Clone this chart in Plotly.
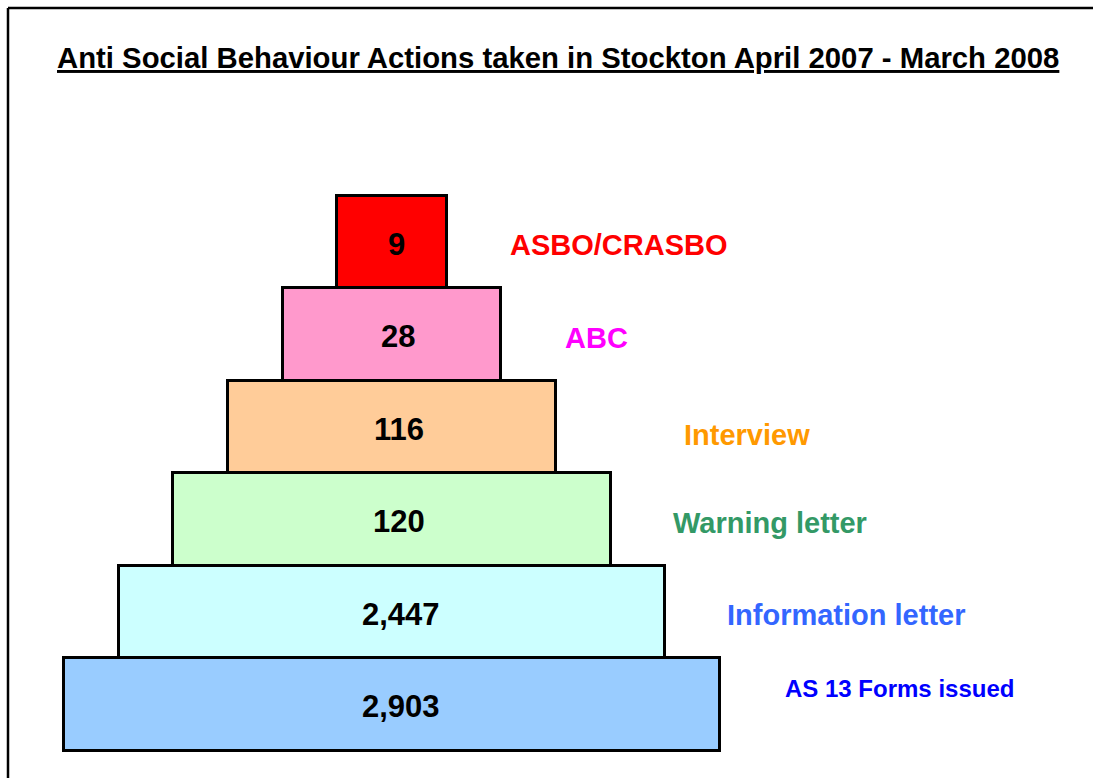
import plotly.graph_objects as go

# ---- data ----
categories = ["ASBO/CRASBO", "ABC", "Interview", "Warning letter",
              "Information letter", "AS 13 Forms issued"]
values = [9, 28, 116, 120, 2447, 2903]
title_text = "Anti Social Behaviour Actions taken in Stockton April 2007 - March 2008"

# ---- styles ----
bar_colors = ["#FF0000", "#FF99CC", "#FFCC99", "#CCFFCC", "#CCFFFF", "#99CCFF"]
label_colors = ["#FF0000", "#FF00FF", "#FF9900", "#339966", "#3366FF", "#0000FF"]
label_sizes = [29, 29, 29, 29, 29, 24]
label_gap = [0.56, 0.56, 1.15, 0.55, 0.55, 0.58]   # gap from bar edge (x units)
label_yshift = [-3, -3, -8, -3, -3, 16]            # pixels
value_xshift = [1, 3, 4, 4, 6, 6]                  # pixels
FONT = "Liberation Sans, Arial, sans-serif"

n = len(categories)
# pyramid: level k (from top) is k+1 units wide, centred on 0
levels = list(range(n))
ypos = [n - 1 - k for k in levels]
widths = [k + 1 for k in levels]
bases = [-w / 2 for w in widths]

fig = go.Figure()
fig.add_trace(go.Bar(
    orientation="h",
    y=ypos,
    x=widths,
    base=bases,
    width=1,
    marker=dict(color=bar_colors, line=dict(color="black", width=3)),
    hoverinfo="skip",
))

annotations = []
for k in levels:
    annotations.append(dict(
        x=0.03, y=ypos[k], xref="x", yref="y",
        text=f"<b>{values[k]:,}</b>", showarrow=False,
        xanchor="center", yanchor="middle", yshift=-2, xshift=value_xshift[k],
        font=dict(family=FONT, size=31, color="black"),
    ))
    annotations.append(dict(
        x=widths[k] / 2 + label_gap[k], y=ypos[k], xref="x", yref="y",
        text=f"<b>{categories[k]}</b>", showarrow=False,
        xanchor="left", yanchor="middle", yshift=label_yshift[k],
        font=dict(family=FONT, size=label_sizes[k], color=label_colors[k]),
    ))
annotations.append(dict(
    x=558 / 1094, y=1 - 57 / 778, xref="paper", yref="paper",
    text=f"<b><u>{title_text}</u></b>", showarrow=False,
    xanchor="center", yanchor="middle",
    font=dict(family=FONT, size=29.3, color="black"),
))

unit = 109.3   # px per x unit
cx = 392       # px of pyramid centre
row = 92.5     # px per row
cy0 = 704.5    # px centre of bottom row

fig.update_layout(
    width=1094, height=778,
    margin=dict(l=0, r=0, t=0, b=0),
    paper_bgcolor="white", plot_bgcolor="white",
    showlegend=False,
    bargap=0,
    xaxis=dict(range=[-cx / unit, (1094 - cx) / unit], visible=False, fixedrange=True),
    yaxis=dict(range=[(cy0 - 778) / row, cy0 / row], visible=False, fixedrange=True),
    annotations=annotations,
    shapes=[
        dict(type="line", xref="paper", yref="paper",
             x0=8 / 1094, x1=8 / 1094, y0=0, y1=1 - 8 / 778,
             line=dict(color="black", width=2.5)),
        dict(type="line", xref="paper", yref="paper",
             x0=8 / 1094, x1=1093 / 1094, y0=1 - 8 / 778, y1=1 - 8 / 778,
             line=dict(color="black", width=2.5)),
    ],
)

fig.write_html(
    "out.html", config={"displayModeBar": False},
    post_script="document.body.style.margin='0px';"
                "document.body.style.overflow='hidden';"
                "document.documentElement.style.overflow='hidden';",
)
